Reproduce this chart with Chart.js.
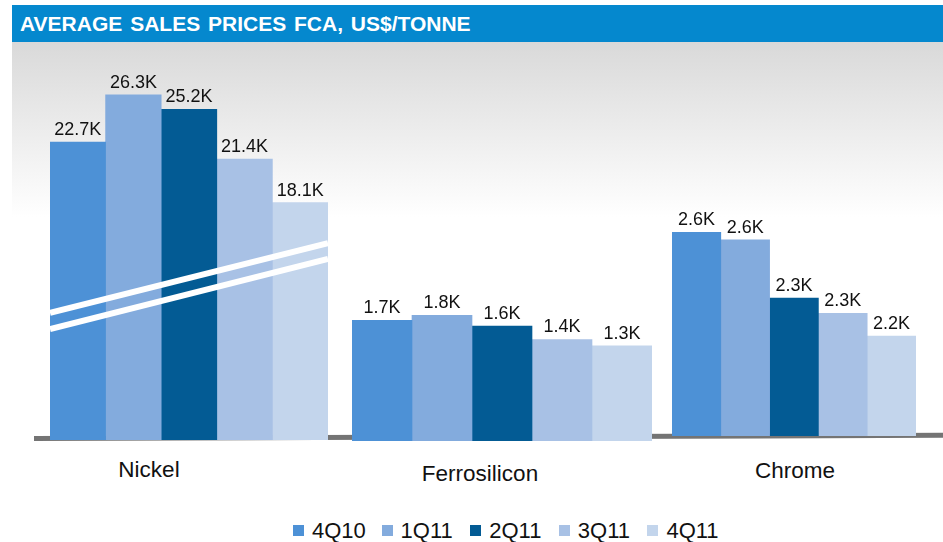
<!DOCTYPE html>
<html>
<head>
<meta charset="utf-8">
<script src="https://cdn.jsdelivr.net/npm/chart.js@4.4.1/dist/chart.umd.min.js"></script>
<style>
  html, body { margin: 0; padding: 0; background: #fff; }
  body { width: 943px; height: 542px; position: relative; overflow: hidden; font-family: "Liberation Sans", Arial, sans-serif; }
  .header { position: absolute; left: 12px; top: 5px; width: 931px; height: 37px; background: #0588ce; color: #fff;
            font-weight: bold; font-size: 21px; word-spacing: 2px; line-height: 37px; padding-left: 8px; box-sizing: border-box; white-space: nowrap; }
  .panel { position: absolute; left: 12px; top: 42px; width: 931px; height: 175px; background: linear-gradient(to bottom, #d9d9d9 0%, #ffffff 100%); }
  svg.base { position: absolute; left: 0; top: 0; }
  canvas { position: absolute; }
  .cat { position: absolute; font-size: 22.5px; line-height: 22px; color: #111; white-space: nowrap; transform: translateX(-50%); }
  .legend-item { position: absolute; top: 520px; height: 22px; font-size: 22px; line-height: 22px; color: #111; white-space: nowrap; }
  .legend-item .sw { position: absolute; left: 0; top: 5px; width: 11px; height: 11px; }
  .legend-item .tx { position: absolute; left: 19px; top: 0; }
</style>
</head>
<body>
<div class="header">AVERAGE SALES PRICES FCA, US$/TONNE</div>
<div class="panel"></div>
<svg class="base" width="943" height="542"><line x1="34" y1="438.5" x2="943" y2="435.3" stroke="#747474" stroke-width="5"/></svg>
<div id="charts"></div>
<div id="legend"></div>

<script>
/* global Chart */

const series = ['4Q10', '1Q11', '2Q11', '3Q11', '4Q11'];
const seriesColors = ['#4d91d6', '#83abdd', '#035b94', '#a8c1e5', '#c3d5ec'];
const categories = ['Nickel', 'Ferrosilicon', 'Chrome'];

// US$ thousand per tonne, one value per quarter
const nickelPrices = [22.7, 26.3, 25.2, 21.4, 18.1];
const ferrosiliconPrices = [1.70, 1.77, 1.62, 1.43, 1.34];
const chromePrices = [2.60, 2.57, 2.34, 2.28, 2.19];

// each product sits on its own scale in the original slide
const groups = [
  { name: categories[0], values: nickelPrices, left: 50, top: 60, width: 278, height: 380, min: 0, max: 28.96, label: { x: 149, top: 459 }, broken: true },
  { name: categories[1], values: ferrosiliconPrices, left: 352, top: 60, width: 300, height: 381, min: 0, max: 5.366, label: { x: 480, top: 463 } },
  { name: categories[2], values: chromePrices, left: 672, top: 60, width: 244, height: 376, min: 1.795, max: 3.281, label: { x: 795, top: 460 } }
];

const valueLabels = {
  id: 'valueLabels',
  afterDatasetsDraw(chart) {
    const ctx = chart.ctx;
    ctx.save();
    ctx.font = '18px "Liberation Sans", Arial, sans-serif';
    ctx.fillStyle = '#111';
    ctx.textAlign = 'center';
    ctx.textBaseline = 'alphabetic';
    chart.data.datasets.forEach((ds, i) => {
      chart.getDatasetMeta(i).data.forEach((bar, j) => {
        ctx.fillText(ds.data[j].toFixed(1) + 'K', bar.x, bar.y - 7);
      });
    });
    ctx.restore();
  }
};

// white double stroke marking the cut nickel axis
const axisBreak = {
  id: 'axisBreak',
  afterDatasetsDraw(chart, args, opts) {
    if (!opts.show) return;
    const { ctx, chartArea } = chart;
    const y = chart.scales.y;
    ctx.save();
    ctx.strokeStyle = '#ffffff';
    ctx.lineWidth = 6;
    [[9.7, 15.0], [8.45, 13.8]].forEach(([a, b]) => {
      ctx.beginPath();
      ctx.moveTo(chartArea.left, y.getPixelForValue(a));
      ctx.lineTo(chartArea.right, y.getPixelForValue(b));
      ctx.stroke();
    });
    ctx.restore();
  }
};

function buildGroup(g, idx) {
  const canvas = document.createElement('canvas');
  canvas.id = 'chart' + idx;
  canvas.width = g.width;
  canvas.height = g.height;
  canvas.style.left = g.left + 'px';
  canvas.style.top = g.top + 'px';
  canvas.style.width = g.width + 'px';
  canvas.style.height = g.height + 'px';
  document.getElementById('charts').appendChild(canvas);

  new Chart(canvas.getContext('2d'), {
    type: 'bar',
    data: {
      labels: [g.name],
      datasets: series.map((s, i) => ({
        label: s,
        data: [g.values[i]],
        backgroundColor: seriesColors[i],
        borderWidth: 0,
        categoryPercentage: 1,
        barPercentage: 1
      }))
    },
    options: {
      responsive: false,
      animation: false,
      layout: { padding: 0 },
      plugins: {
        legend: { display: false },
        tooltip: { enabled: false },
        axisBreak: { show: !!g.broken }
      },
      scales: {
        x: { display: false },
        y: { display: false, min: g.min, max: g.max }
      }
    },
    plugins: [axisBreak, valueLabels]
  });

  const lab = document.createElement('div');
  lab.className = 'cat';
  lab.style.left = g.label.x + 'px';
  lab.style.top = g.label.top + 'px';
  lab.textContent = g.name;
  document.body.appendChild(lab);
}

function buildLegend() {
  const box = document.getElementById('legend');
  series.forEach((s, i) => {
    const item = document.createElement('div');
    item.className = 'legend-item';
    item.style.left = (293 + i * 88.6) + 'px';
    item.innerHTML = '<span class="sw" style="background:' + seriesColors[i] + '"></span><span class="tx">' + s + '</span>';
    box.appendChild(item);
  });
}

groups.forEach(buildGroup);
buildLegend();
</script>
</body>
</html>
